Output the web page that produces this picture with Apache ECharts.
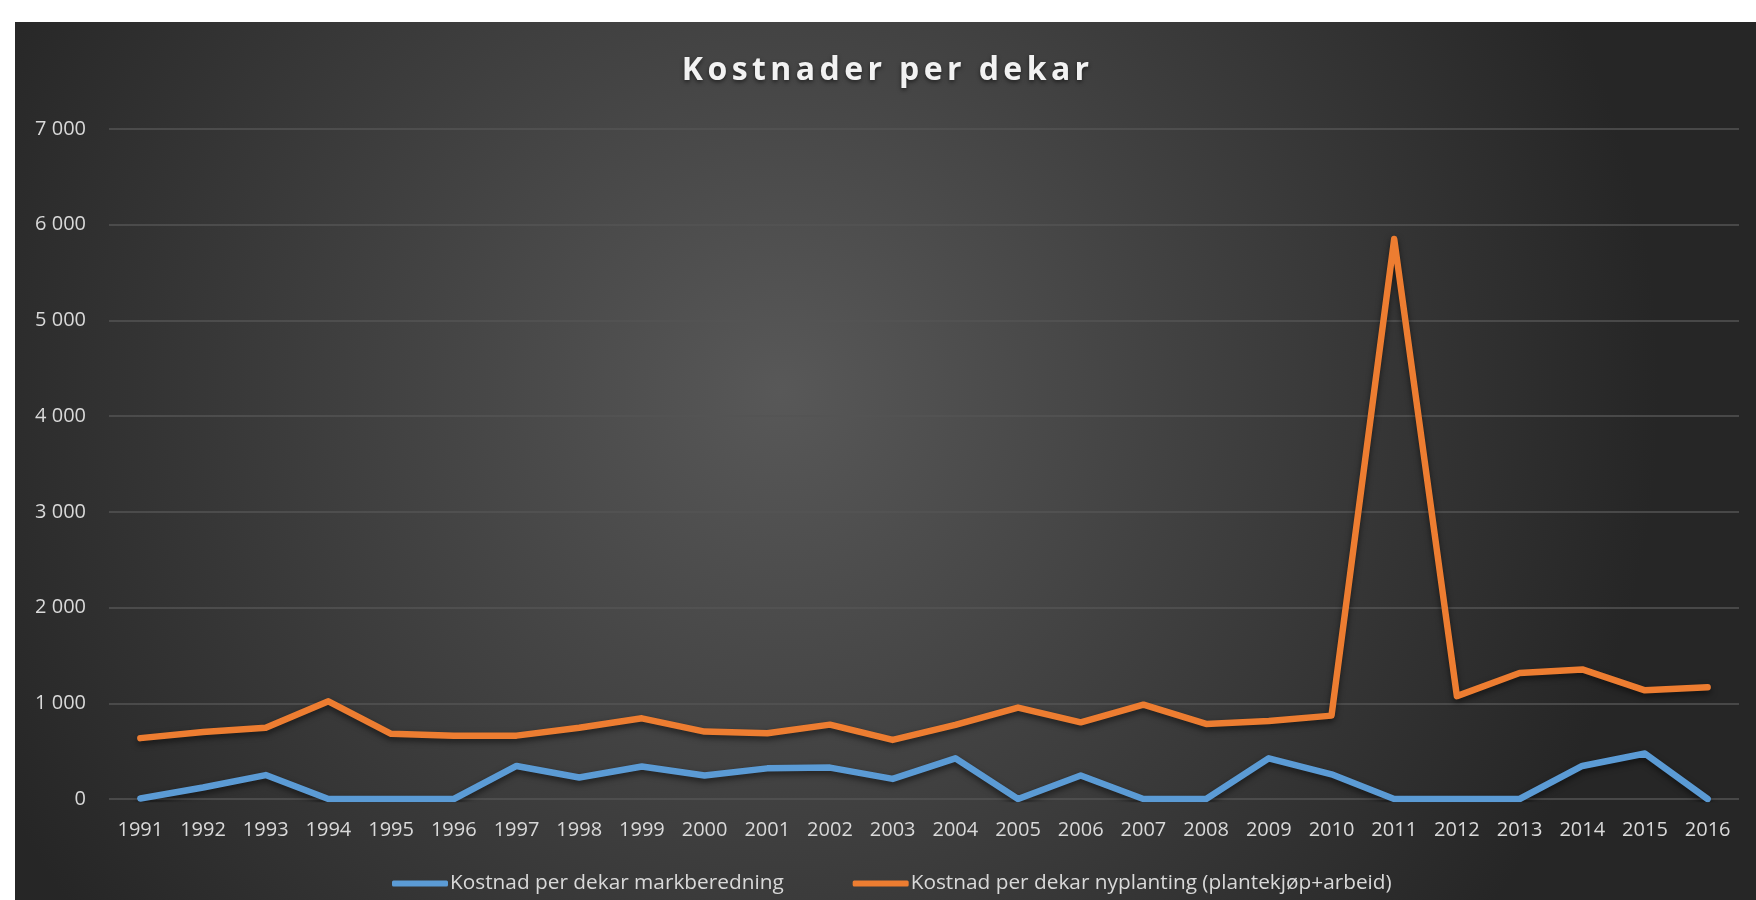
<!DOCTYPE html>
<html>
<head>
<meta charset="utf-8">
<script src="https://cdn.jsdelivr.net/npm/echarts@6/dist/echarts.min.js"></script>
<style>
  html, body { margin: 0; padding: 0; background: #ffffff; }
  #chart { position: absolute; left: 15px; top: 22px; width: 1741px; height: 878px; }
</style>
</head>
<body>
<div id="chart"></div>
<script>
// Years on the category axis
const years = ['1991','1992','1993','1994','1995','1996','1997','1998','1999','2000','2001','2002','2003',
               '2004','2005','2006','2007','2008','2009','2010','2011','2012','2013','2014','2015','2016'];

// Cost per decare, field preparation (kr)
const markberedning = [5, 120, 250, 0, 0, 0, 345, 225, 340, 245, 320, 328, 210,
                       425, 0, 245, 0, 0, 425, 258, 0, 0, 0, 345, 475, 0];

// Cost per decare, new planting (plants + labour) (kr)
const nyplanting = [636, 700, 745, 1020, 681, 662, 662, 744, 843, 704, 686, 777, 617,
                    775, 955, 801, 985, 784, 815, 871, 5850, 1075, 1317, 1354, 1135, 1168];

const chartTitle = 'Kostnader per dekar';
const seriesNames = ['Kostnad per dekar markberedning', 'Kostnad per dekar nyplanting (plantekjøp+arbeid)'];
const yTicks = { min: 0, max: 7000, interval: 1000 };

const fontFamily = '"Open Sans", "Noto Sans", sans-serif';
const textColor = '#d9d9d9';

const chart = echarts.init(document.getElementById('chart'));

// "7000" -> "7 000"
function spaced(v) {
  return String(v).replace(/\B(?=(\d{3})+(?!\d))/g, ' ');
}

// Letter-spaced title: every character becomes its own rich fragment with side padding
const titleStyle = {
  color: '#f2f2f2',
  fontFamily: fontFamily,
  fontWeight: 'bold',
  fontSize: 32,
  padding: [0, 2.2, 0, 2.2],
  textShadowColor: 'rgba(0,0,0,0.55)',
  textShadowBlur: 4,
  textShadowOffsetY: 2
};
const spacedTitle = chartTitle.split('').map(function (ch) { return '{c|' + ch + '}'; }).join('');

const lineShadow = {
  shadowColor: 'rgba(0,0,0,0.55)',
  shadowBlur: 6,
  shadowOffsetX: 0,
  shadowOffsetY: 3
};

chart.setOption({
  backgroundColor: {
    type: 'radial', x: 0.44, y: 0.42, r: 1.0,
    colorStops: [
      { offset: 0, color: '#585858' },
      { offset: 1, color: '#262626' }
    ]
  },
  title: {
    text: spacedTitle,
    left: 'center',
    top: 28,
    textStyle: Object.assign({}, titleStyle, { rich: { c: titleStyle } })
  },
  grid: {
    left: 94, right: 17, top: 107, bottom: 101,
    containLabel: false
  },
  legend: {
    bottom: 1,
    left: 372,
    itemWidth: 56,
    itemHeight: 6,
    itemGap: 69,
    icon: 'roundRect',
    textStyle: { color: textColor, fontFamily: fontFamily, fontSize: 20.8, padding: [0, 0, 0, -3] },
    data: seriesNames
  },
  xAxis: {
    type: 'category',
    data: years,
    boundaryGap: true,
    axisLine: { show: false },
    axisTick: { show: false },
    axisLabel: { color: textColor, fontFamily: fontFamily, fontSize: 20, margin: 21, interval: 0 }
  },
  yAxis: {
    type: 'value',
    min: yTicks.min, max: yTicks.max, interval: yTicks.interval,
    axisLine: { show: false },
    axisTick: { show: false },
    axisLabel: { color: textColor, fontFamily: fontFamily, fontSize: 20, margin: 23, formatter: spaced },
    splitLine: { lineStyle: { color: '#545454', width: 1.5 } }
  },
  series: [
    {
      name: seriesNames[0],
      type: 'line',
      data: markberedning,
      symbol: 'none',
      color: '#5b9bd5',
      lineStyle: Object.assign({ width: 6.5, color: '#5b9bd5', cap: 'round', join: 'round' }, lineShadow)
    },
    {
      name: seriesNames[1],
      type: 'line',
      data: nyplanting,
      symbol: 'none',
      color: '#ed7d31',
      lineStyle: Object.assign({ width: 6.5, color: '#ed7d31', cap: 'round', join: 'round' }, lineShadow)
    }
  ]
});
</script>
</body>
</html>
